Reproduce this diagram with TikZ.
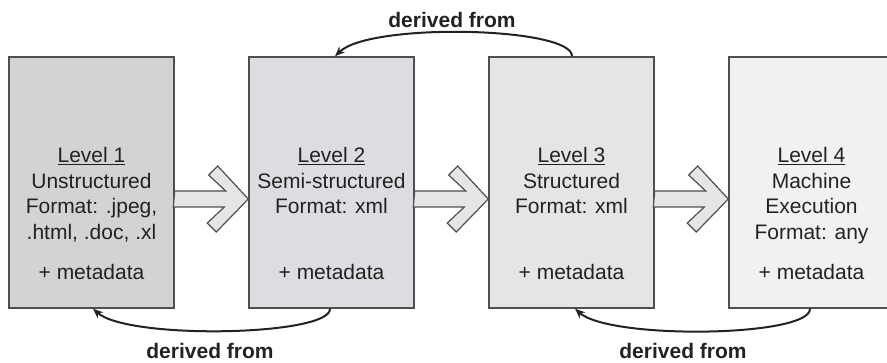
\documentclass[tikz,border=0pt]{standalone}
\usepackage{fontspec}
\setmainfont{Liberation Sans}
\usetikzlibrary{arrows.meta}
\definecolor{edge}{HTML}{4F4F4F}
\definecolor{ink}{HTML}{222222}
\definecolor{fillA}{HTML}{D2D3D5}
\definecolor{fillB}{HTML}{DCDDE0}
\definecolor{fillC}{HTML}{E4E5E7}
\definecolor{fillD}{HTML}{F0F1F3}
\definecolor{arrowfill}{HTML}{E4E5E7}
\begin{document}
\begin{tikzpicture}[x=1pt,y=1pt,
  levelbox/.style={draw=edge, line width=1.4pt, minimum width=165pt, minimum height=251pt, inner sep=0pt},
  levtext/.style={align=center, font=\fontsize{21}{25.5}\selectfont, text=ink, anchor=north, inner sep=0pt},
  metatext/.style={font=\fontsize{21}{25.5}\selectfont, text=ink, anchor=base, inner sep=0pt},
  flowarrow/.style={draw=edge, line width=1.2pt, fill=arrowfill, line join=miter},
  derived/.style={draw=ink, line width=2pt, -{Stealth[length=10pt,width=8pt]}},
  derivedlabel/.style={font=\fontsize{21}{25}\selectfont\bfseries, text=ink, inner sep=0pt}]
\useasboundingbox (0,0) rectangle (887,362);
\clip (0,0) rectangle (887,362);

% the four level boxes
\node[levelbox, fill=fillA] (L1) at (91.5,179.5) {};
\node[levelbox, fill=fillB] (L2) at (331.5,179.5) {};
\node[levelbox, fill=fillC] (L3) at (571.5,179.5) {};
\node[levelbox, fill=fillD] (L4) at (811.5,179.5) {};

% box captions
\node[levtext] (t1) at (91.5,214.5) {\underline{Level 1}\\Unstructured\\Format: .jpeg,\\.html, .doc, .xl};
\node[levtext] (t2) at (331.5,214.5) {\underline{Level 2}\\Semi-structured\\Format: xml};
\node[levtext] (t3) at (571.5,214.5) {\underline{Level 3}\\Structured\\Format: xml};
\node[levtext] (t4) at (811.5,214.5) {\underline{Level 4}\\Machine\\Execution\\Format: any};
\foreach \b/\x in {1/91.5,2/331.5,3/571.5,4/811.5}
  \node[metatext] (m\b) at (\x,82) {+ metadata};

% hollow block arrows from one level to the next
\foreach \a/\b in {L1/L2,L2/L3,L3/L4}{
  \path (\a.east) ++(0,-16.5) coordinate (s);
  \draw[flowarrow] (s) ++(0,8) -- ++(51,0) -- ++(-17,16) -- ++(9,9)
     -- (\b.west |- s) -- ++(-32,-33) -- ++(-9,9) -- ++(17,16) -- ++(-51,0) -- cycle;
}

% derived-from connectors
\draw[derived] (L3.north -| 572,0) .. controls (573,335) and (370,340) .. (L2.north -| 335,0);
\draw[derived] (L2.south -| 330,0) .. controls (331,26) and (128,22) .. (L1.south -| 93,0);
\draw[derived] (L4.south -| 810,0) .. controls (811,25) and (610,22) .. (L3.south -| 575,0);

\node[derivedlabel] (d1) at (452,342) {derived from};
\node[derivedlabel] (d2) at (210,11.5) {derived from};
\node[derivedlabel] (d3) at (683,11.5) {derived from};
\end{tikzpicture}
\end{document}
